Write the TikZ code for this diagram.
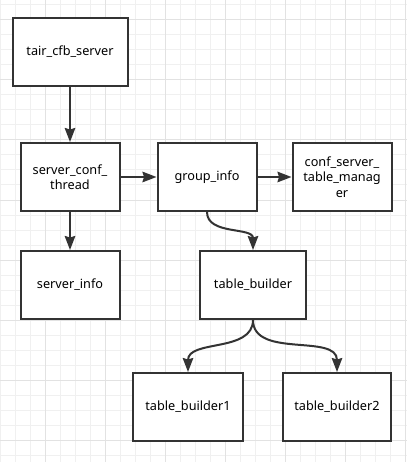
\documentclass[tikz,border=0pt]{standalone}
\usepackage{fontspec}
\setmainfont{Noto Sans}
\usetikzlibrary{arrows.meta}
\definecolor{minorgrid}{HTML}{F0F0F0}
\definecolor{majorgrid}{HTML}{E2E2E2}
\definecolor{stroke}{HTML}{333333}
\begin{document}
\begin{tikzpicture}[x=1pt,y=-1pt,
  box/.style={draw=stroke,line width=2pt,fill=white,minimum height=68pt,inner sep=0pt,align=center,
    font=\fontsize{12.7}{15.5}\selectfont,text=black},
  conn/.style={draw=stroke,line width=2pt,-{Stealth[length=14pt,width=10.5pt,inset=1.5pt]}},
  minorline/.style={draw=minorgrid,line width=1pt},
  majorline/.style={draw=majorgrid,line width=1pt}]
\useasboundingbox[fill=white] (0,0) rectangle (407,462);
\foreach \i in {0,...,27} \draw[minorline] ({0.7+15*\i},0) -- ({0.7+15*\i},462);
\foreach \j in {0,...,30} \draw[minorline] (0,{5+15*\j}) -- (407,{5+15*\j});
\foreach \i in {0,...,6} \draw[majorline] ({45.7+60*\i},0) -- ({45.7+60*\i},462);
\foreach \j in {0,...,7} \draw[majorline] (0,{20+60*\j}) -- (407,{20+60*\j});

\node[box,minimum width=115pt] (A) at (70,52) {tair\_cfb\_server};
\node[box,minimum width=99pt] (B) at (70,177) {server\_conf\_\\thread};
\node[box,minimum width=99pt] (C) at (207,177) {group\_info};
\node[box,minimum width=99pt] (D) at (342,177) {conf\_server\_\\table\_manag\\er};
\node[box,minimum width=99pt] (E) at (70,285) {server\_info};
\node[box,minimum width=106pt] (F) at (253,285) {table\_builder};
\node[box,minimum width=110pt] (G) at (188,407) {table\_builder1};
\node[box,minimum width=108pt] (H) at (337,407) {table\_builder2};

\draw[conn] (A) -- (B);
\draw[conn] (B) -- (E);
\draw[conn] (B) -- (C);
\draw[conn] (C) -- (D);
\draw[conn] (C.south) to[out=-90,in=90] (F.north);
\draw[conn] (F.south) to[out=-90,in=90] (G.north);
\draw[conn] (F.south) to[out=-90,in=90] (H.north);
\end{tikzpicture}
\end{document}
